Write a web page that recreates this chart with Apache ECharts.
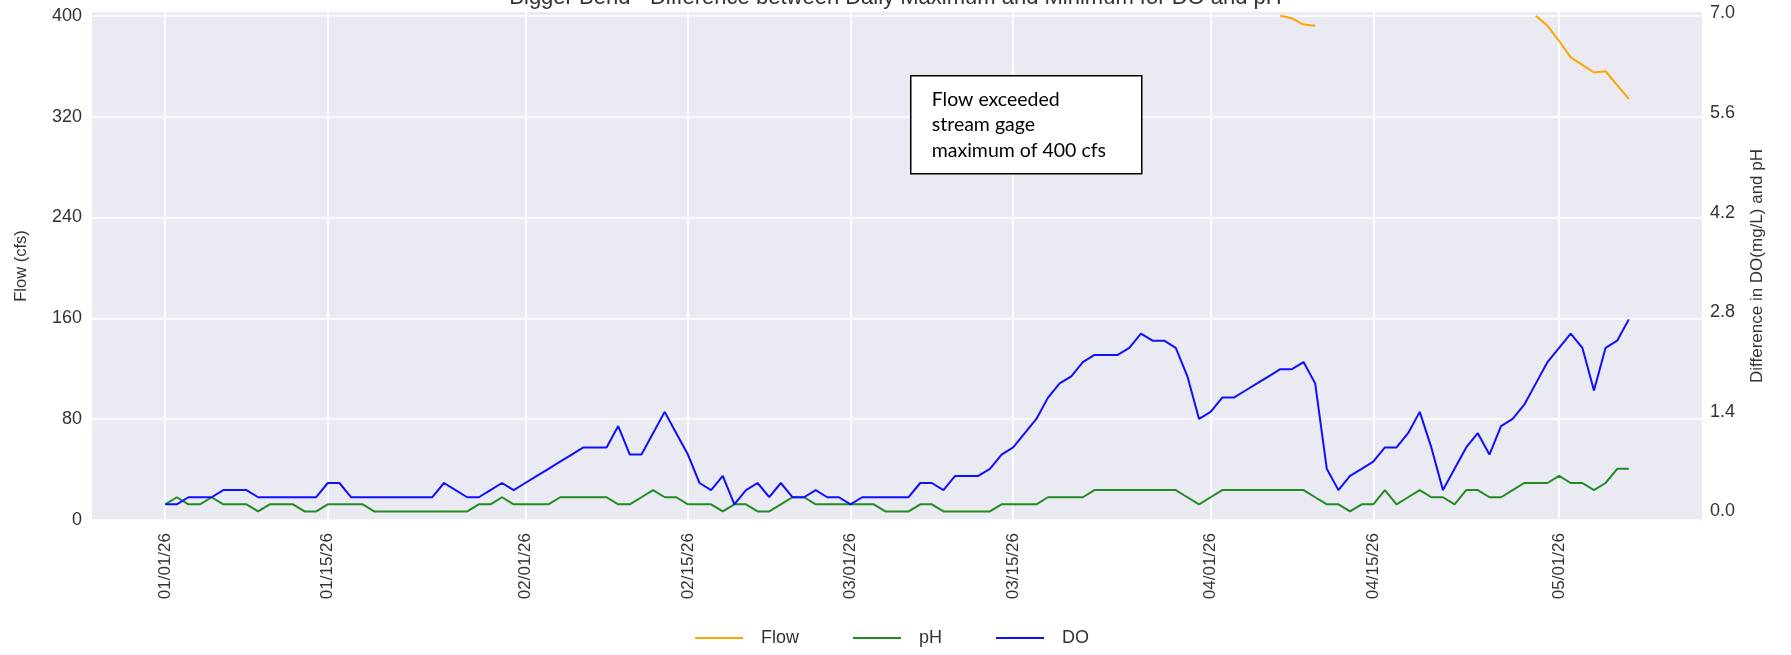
<!DOCTYPE html>
<html>
<head>
<meta charset="utf-8">
<title>Bigger Bend - DO and pH</title>
<script src="https://cdn.jsdelivr.net/npm/echarts@6.0.0/dist/echarts.min.js"></script>
<style>
  html, body { margin: 0; padding: 0; background: #ffffff; }
  #chart { width: 1791px; height: 655px; }
</style>
</head>
<body>
<div id="chart"></div>
<script>
// x positions are days since 01/01/26
const tickDays = [0, 14, 31, 45, 59, 73, 90, 104, 120];
const tickLabels = ['01/01/26', '01/15/26', '02/01/26', '02/15/26', '03/01/26',
  '03/15/26', '04/01/26', '04/15/26', '05/01/26'];

// daily max - min, days 0..126
const doValues = [
  0.1, 0.1, 0.2, 0.2, 0.2, 0.3, 0.3, 0.3, 0.2, 0.2,
  0.2, 0.2, 0.2, 0.2, 0.4, 0.4, 0.2, 0.2, 0.2, 0.2,
  0.2, 0.2, 0.2, 0.2, 0.4, 0.3, 0.2, 0.2, 0.3, 0.4,
  0.3, 0.4, 0.5, 0.6, 0.7, 0.8, 0.9, 0.9, 0.9, 1.2,
  0.8, 0.8, 1.1, 1.4, 1.1, 0.8, 0.4, 0.3, 0.5, 0.1,
  0.3, 0.4, 0.2, 0.4, 0.2, 0.2, 0.3, 0.2, 0.2, 0.1,
  0.2, 0.2, 0.2, 0.2, 0.2, 0.4, 0.4, 0.3, 0.5, 0.5,
  0.5, 0.6, 0.8, 0.9, 1.1, 1.3, 1.6, 1.8, 1.9, 2.1,
  2.2, 2.2, 2.2, 2.3, 2.5, 2.4, 2.4, 2.3, 1.9, 1.3,
  1.4, 1.6, 1.6, 1.7, 1.8, 1.9, 2.0, 2.0, 2.1, 1.8,
  0.6, 0.3, 0.5, 0.6, 0.7, 0.9, 0.9, 1.1, 1.4, 0.9,
  0.3, 0.6, 0.9, 1.1, 0.8, 1.2, 1.3, 1.5, 1.8, 2.1,
  2.3, 2.5, 2.3, 1.7, 2.3, 2.4, 2.7
];
const phValues = [
  0.1, 0.2, 0.1, 0.1, 0.2, 0.1, 0.1, 0.1, 0.0, 0.1,
  0.1, 0.1, 0.0, 0.0, 0.1, 0.1, 0.1, 0.1, 0.0, 0.0,
  0.0, 0.0, 0.0, 0.0, 0.0, 0.0, 0.0, 0.1, 0.1, 0.2,
  0.1, 0.1, 0.1, 0.1, 0.2, 0.2, 0.2, 0.2, 0.2, 0.1,
  0.1, 0.2, 0.3, 0.2, 0.2, 0.1, 0.1, 0.1, 0.0, 0.1,
  0.1, 0.0, 0.0, 0.1, 0.2, 0.2, 0.1, 0.1, 0.1, 0.1,
  0.1, 0.1, 0.0, 0.0, 0.0, 0.1, 0.1, 0.0, 0.0, 0.0,
  0.0, 0.0, 0.1, 0.1, 0.1, 0.1, 0.2, 0.2, 0.2, 0.2,
  0.3, 0.3, 0.3, 0.3, 0.3, 0.3, 0.3, 0.3, 0.2, 0.1,
  0.2, 0.3, 0.3, 0.3, 0.3, 0.3, 0.3, 0.3, 0.3, 0.2,
  0.1, 0.1, 0.0, 0.1, 0.1, 0.3, 0.1, 0.2, 0.3, 0.2,
  0.2, 0.1, 0.3, 0.3, 0.2, 0.2, 0.3, 0.4, 0.4, 0.4,
  0.5, 0.4, 0.4, 0.3, 0.4, 0.6, 0.6
];
// flow only recorded on days below the 400 cfs gage maximum
const flowDays = [96, 97, 98, 99, 118, 119, 120, 121, 122, 123, 124, 125, 126];
const flowValues = [400, 398, 393, 392, 400, 392, 380, 367, 361, 355, 356, 345, 334];

const flowTicks = [0, 80, 160, 240, 320, 400];
const rightTicks = [0, 1.4, 2.8, 4.2, 5.6, 7.0];

const doData = doValues.map((v, i) => [i, v]);
const phData = phValues.map((v, i) => [i, v]);
const flowData = doValues.map((v, i) => {
  const k = flowDays.indexOf(i);
  return [i, k >= 0 ? flowValues[k] : null];
});

const chart = echarts.init(document.getElementById('chart'));
const txt = '#333333';

const option = {
  animation: false,
  backgroundColor: '#ffffff',
  textStyle: { fontFamily: 'Liberation Sans, Arial, sans-serif' },
  title: {
    text: 'Bigger Bend - Difference between Daily Maximum and Minimum for DO and pH',
    left: 'center',
    top: -18,
    textStyle: { fontSize: 22, fontWeight: 'normal', color: txt }
  },
  legend: {
    left: 690,
    top: 624,
    icon: 'rect',
    itemWidth: 48,
    itemHeight: 2,
    itemGap: 54,
    textStyle: { fontSize: 18, color: txt, padding: [0, 0, 0, 13] },
    data: ['Flow', 'pH', 'DO']
  },
  grid: {
    left: 92,
    right: 89,
    top: 12,
    bottom: 135,
    show: true,
    backgroundColor: '#EAEAF2',
    borderWidth: 0
  },
  xAxis: {
    type: 'value',
    min: -6.3,
    max: 132.3,
    axisLine: { show: false },
    axisTick: { show: false, customValues: tickDays },
    axisLabel: {
      customValues: tickDays,
      rotate: 90,
      margin: 13,
      fontSize: 17,
      color: txt,
      formatter: v => tickLabels[tickDays.indexOf(v)] || ''
    },
    splitLine: { show: true, lineStyle: { color: '#ffffff', width: 1.8 } }
  },
  yAxis: [
    {
      type: 'value',
      position: 'left',
      min: 0,
      max: 403,
      name: 'Flow (cfs)',
      nameLocation: 'middle',
      nameGap: 62,
      nameTextStyle: { fontSize: 16.5, color: txt },
      axisLine: { show: false },
      axisTick: { show: false, customValues: flowTicks },
      axisLabel: { customValues: flowTicks, margin: 10, fontSize: 18, color: txt },
      splitLine: { show: true, lineStyle: { color: '#ffffff', width: 1.5 } }
    },
    {
      type: 'value',
      position: 'right',
      min: -0.12,
      max: 7.02,
      name: 'Difference in DO(mg/L) and pH',
      nameLocation: 'middle',
      nameRotate: 90,
      nameGap: 47,
      nameTextStyle: { fontSize: 17, color: txt },
      axisLine: { show: false },
      axisTick: { show: false },
      axisLabel: {
        customValues: rightTicks,
        margin: 8,
        fontSize: 18,
        color: txt,
        formatter: v => v.toFixed(1)
      },
      splitLine: { show: false }
    }
  ],
  series: [
    {
      name: 'Flow',
      type: 'line',
      yAxisIndex: 0,
      data: flowData,
      symbol: 'none',
      connectNulls: false,
      color: '#FFA500',
      lineStyle: { width: 2 }
    },
    {
      name: 'pH',
      type: 'line',
      yAxisIndex: 1,
      data: phData,
      symbol: 'none',
      color: '#228B22',
      lineStyle: { width: 2 }
    },
    {
      name: 'DO',
      type: 'line',
      yAxisIndex: 1,
      data: doData,
      symbol: 'none',
      color: '#1010FF',
      lineStyle: { width: 2 }
    }
  ],
  graphic: [
    {
      type: 'group',
      left: 910,
      top: 75,
      z: 100,
      children: [
        {
          type: 'rect',
          z: 100,
          shape: { x: 0, y: 0, width: 231, height: 98 },
          style: { fill: '#ffffff', stroke: '#000000', lineWidth: 1.5 }
        },
        {
          type: 'text',
          z: 101,
          x: 21,
          y: 11,
          style: {
            text: 'Flow exceeded\nstream gage\nmaximum of 400 cfs',
            fontFamily: 'Lato, Open Sans, sans-serif',
            fontSize: 19.5,
            lineHeight: 25.5,
            fill: '#000000',
            verticalAlign: 'top'
          }
        }
      ]
    }
  ]
};

chart.setOption(option);
window.addEventListener('resize', () => chart.resize());
</script>
</body>
</html>
